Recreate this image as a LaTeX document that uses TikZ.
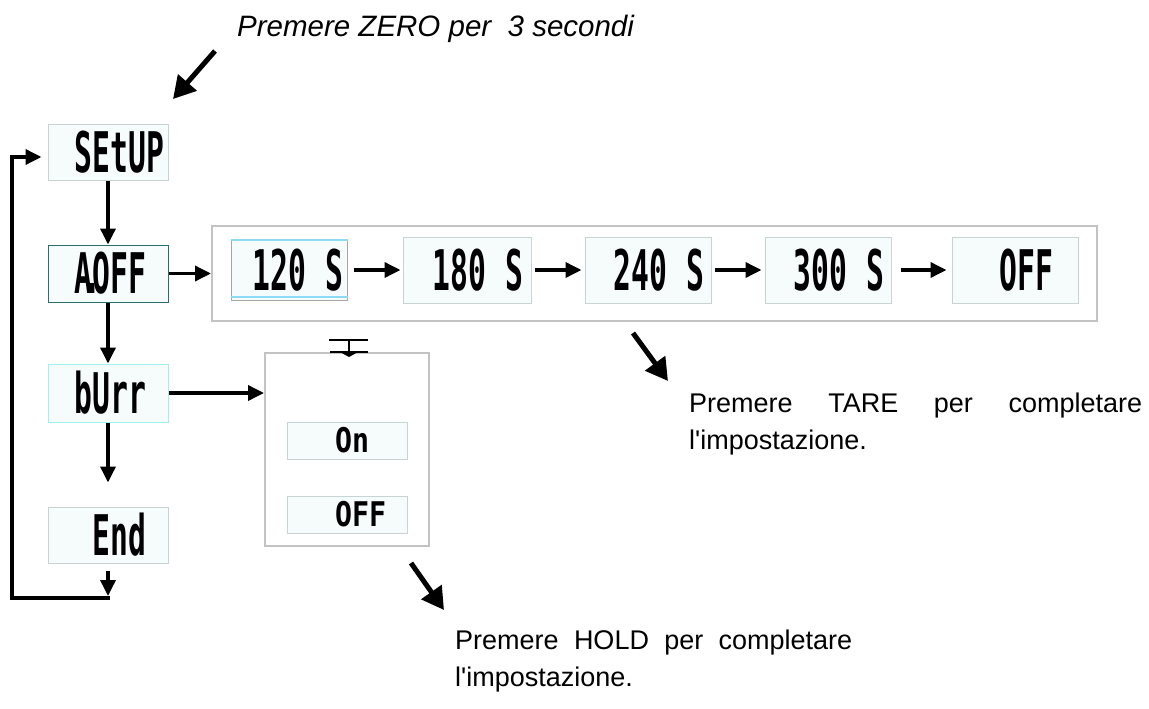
\documentclass[tikz,border=0pt]{standalone}
\usepackage{fontspec}
\setmainfont{Liberation Sans}
\newfontfamily\lcdfont[FakeStretch=0.53]{DejaVu Sans Mono}
\newfontfamily\lcdsmallfont[FakeStretch=0.83]{DejaVu Sans Mono}
\usetikzlibrary{arrows.meta,positioning}
\definecolor{lcdfill}{RGB}{246,252,252}
\definecolor{lcdedge}{RGB}{200,212,212}
\definecolor{tealedge}{RGB}{40,110,110}
\definecolor{cyanedge}{RGB}{160,240,240}
\definecolor{groupedge}{RGB}{195,195,195}
\begin{document}
\begin{tikzpicture}[x=1pt,y=-1pt,
      lcd node/.style={draw=lcdedge,fill=lcdfill,line width=1pt,inner sep=0pt,
        minimum width=120pt,minimum height=56pt,text width=112pt,align=right,
        font=\lcdfont\bfseries\fontsize{56}{60}\selectfont},
      lcd small/.style={lcd node,minimum height=37pt,
        font=\lcdsmallfont\bfseries\fontsize{34}{40}\selectfont},
      group box/.style={draw=groupedge,fill=white,line width=2pt,inner sep=0pt},
      arrow/.style={line width=3.5pt,line join=miter,-{Triangle[length=16pt,width=15pt]}},
      big arrow/.style={line width=5pt,-{Triangle[length=22pt,width=24pt]}},
      note/.style={font=\fontsize{27}{37}\selectfont,inner sep=0pt,align=left}]

      \useasboundingbox (0,0) rectangle (1149,709);

      % menu column
      \node[lcd node] (setup) at (108,152) {SEtUP};
      \node[lcd node,draw=tealedge,minimum height=57pt] (aoff) [below=64pt of setup] {A\makebox[0pt]{.}OFF\phantom{0}};
      \node[lcd node,draw=cyanedge,minimum height=58pt] (burr) [below=61pt of aoff] {bUrr\phantom{0}};
      \node[lcd node] (end) [below=84pt of burr] {End\phantom{0}};

      % auto off times
      \node[group box,minimum width=885pt,minimum height=95pt] (times) at (654.5,273.5) {};
      \node[lcd node,draw=gray!70,minimum width=116pt,minimum height=61pt,text width=108pt] (t120) at (289,270) {120 S};
      \draw[cyan!45,line width=1.5pt] ([yshift=-1pt]t120.north west) -- ([yshift=-1pt]t120.north east);
      \draw[cyan!45,line width=1.5pt] ([yshift=4pt]t120.south west) -- ([yshift=4pt]t120.south east);
      \node[lcd node,minimum width=128pt,minimum height=66pt] (t180) [right=55pt of t120] {180 S};
      \node[lcd node,minimum width=126pt,minimum height=66pt] (t240) [right=53pt of t180] {240 S};
      \node[lcd node,minimum width=126pt,minimum height=66pt] (t300) [right=53pt of t240] {300 S};
      \node[lcd node,minimum width=126pt,minimum height=66pt] (toff) [right=60pt of t300] {OFF\phantom{0}};

      % buzzer choices
      \node[group box,minimum width=164pt,minimum height=193pt] (beep) at (347,449.5) {};
      \node[lcd small] (bon) at (347.5,440.5) {On\phantom{00}};
      \node[lcd small] (boff) at (347,514.5) {OFF\phantom{0}};

      % small marker above the buzzer box
      \draw[line width=2.5pt] (329,340) -- (368,340);
      \draw[line width=2pt] (349,340) -- (349,352);
      \draw[line width=1.5pt] (330,352) -- (368,352);
      \fill (340,352) -- (358,352) -- (349,357) -- cycle;

      \coordinate (loopc) at (110,598);
      \coordinate (loopa) at (12,598);

      \path[arrow]
        (setup) edge (aoff)
        (aoff) edge (burr)
        (aoff.east) edge (aoff.east -| times.west)
        (burr.east) edge (burr.east -| beep.west)
        (burr) edge[shorten >=24pt] (end)
        (end) edge[shorten <=7pt,shorten >=2pt] (end.south |- loopc)
        (t120.east) edge[shorten <=6pt,shorten >=2pt] (t180.west)
        (t180.east) edge[shorten <=3pt,shorten >=3pt] (t240.west)
        (t240.east) edge[shorten <=3pt,shorten >=3pt] (t300.west)
        (t300.east) edge[shorten <=9pt,shorten >=5pt] (toff.west);
      \draw[arrow,shorten >=6pt] (loopc) -- (loopa) |- ([yshift=-5pt]setup.west);

      % notes
      \node[note,anchor=base west,font=\fontsize{29.5}{35}\selectfont\itshape] (zero) at (237,37) {Premere ZERO per\ \ 3 secondi};
      \node[note,anchor=base west] (tare) at (689,449) {\makebox[453pt][s]{Premere TARE per completare}\\l\textquotesingle impostazione.};
      \node[note,anchor=base west] (hold) at (455,686) {\makebox[397pt][s]{Premere HOLD per completare}\\l\textquotesingle impostazione.};

      \coordinate (zerotail) at (215,51);
      \coordinate (zerohead) at (173,99);
      \coordinate (taretail) at (633,333);
      \coordinate (tarehead) at (668,381);
      \coordinate (holdtail) at (411,563);
      \coordinate (holdhead) at (444,610);
      \draw[big arrow] (zerotail) -- (zerohead);
      \draw[big arrow] (taretail) -- (tarehead);
      \draw[big arrow] (holdtail) -- (holdhead);
    \end{tikzpicture}
\end{document}
